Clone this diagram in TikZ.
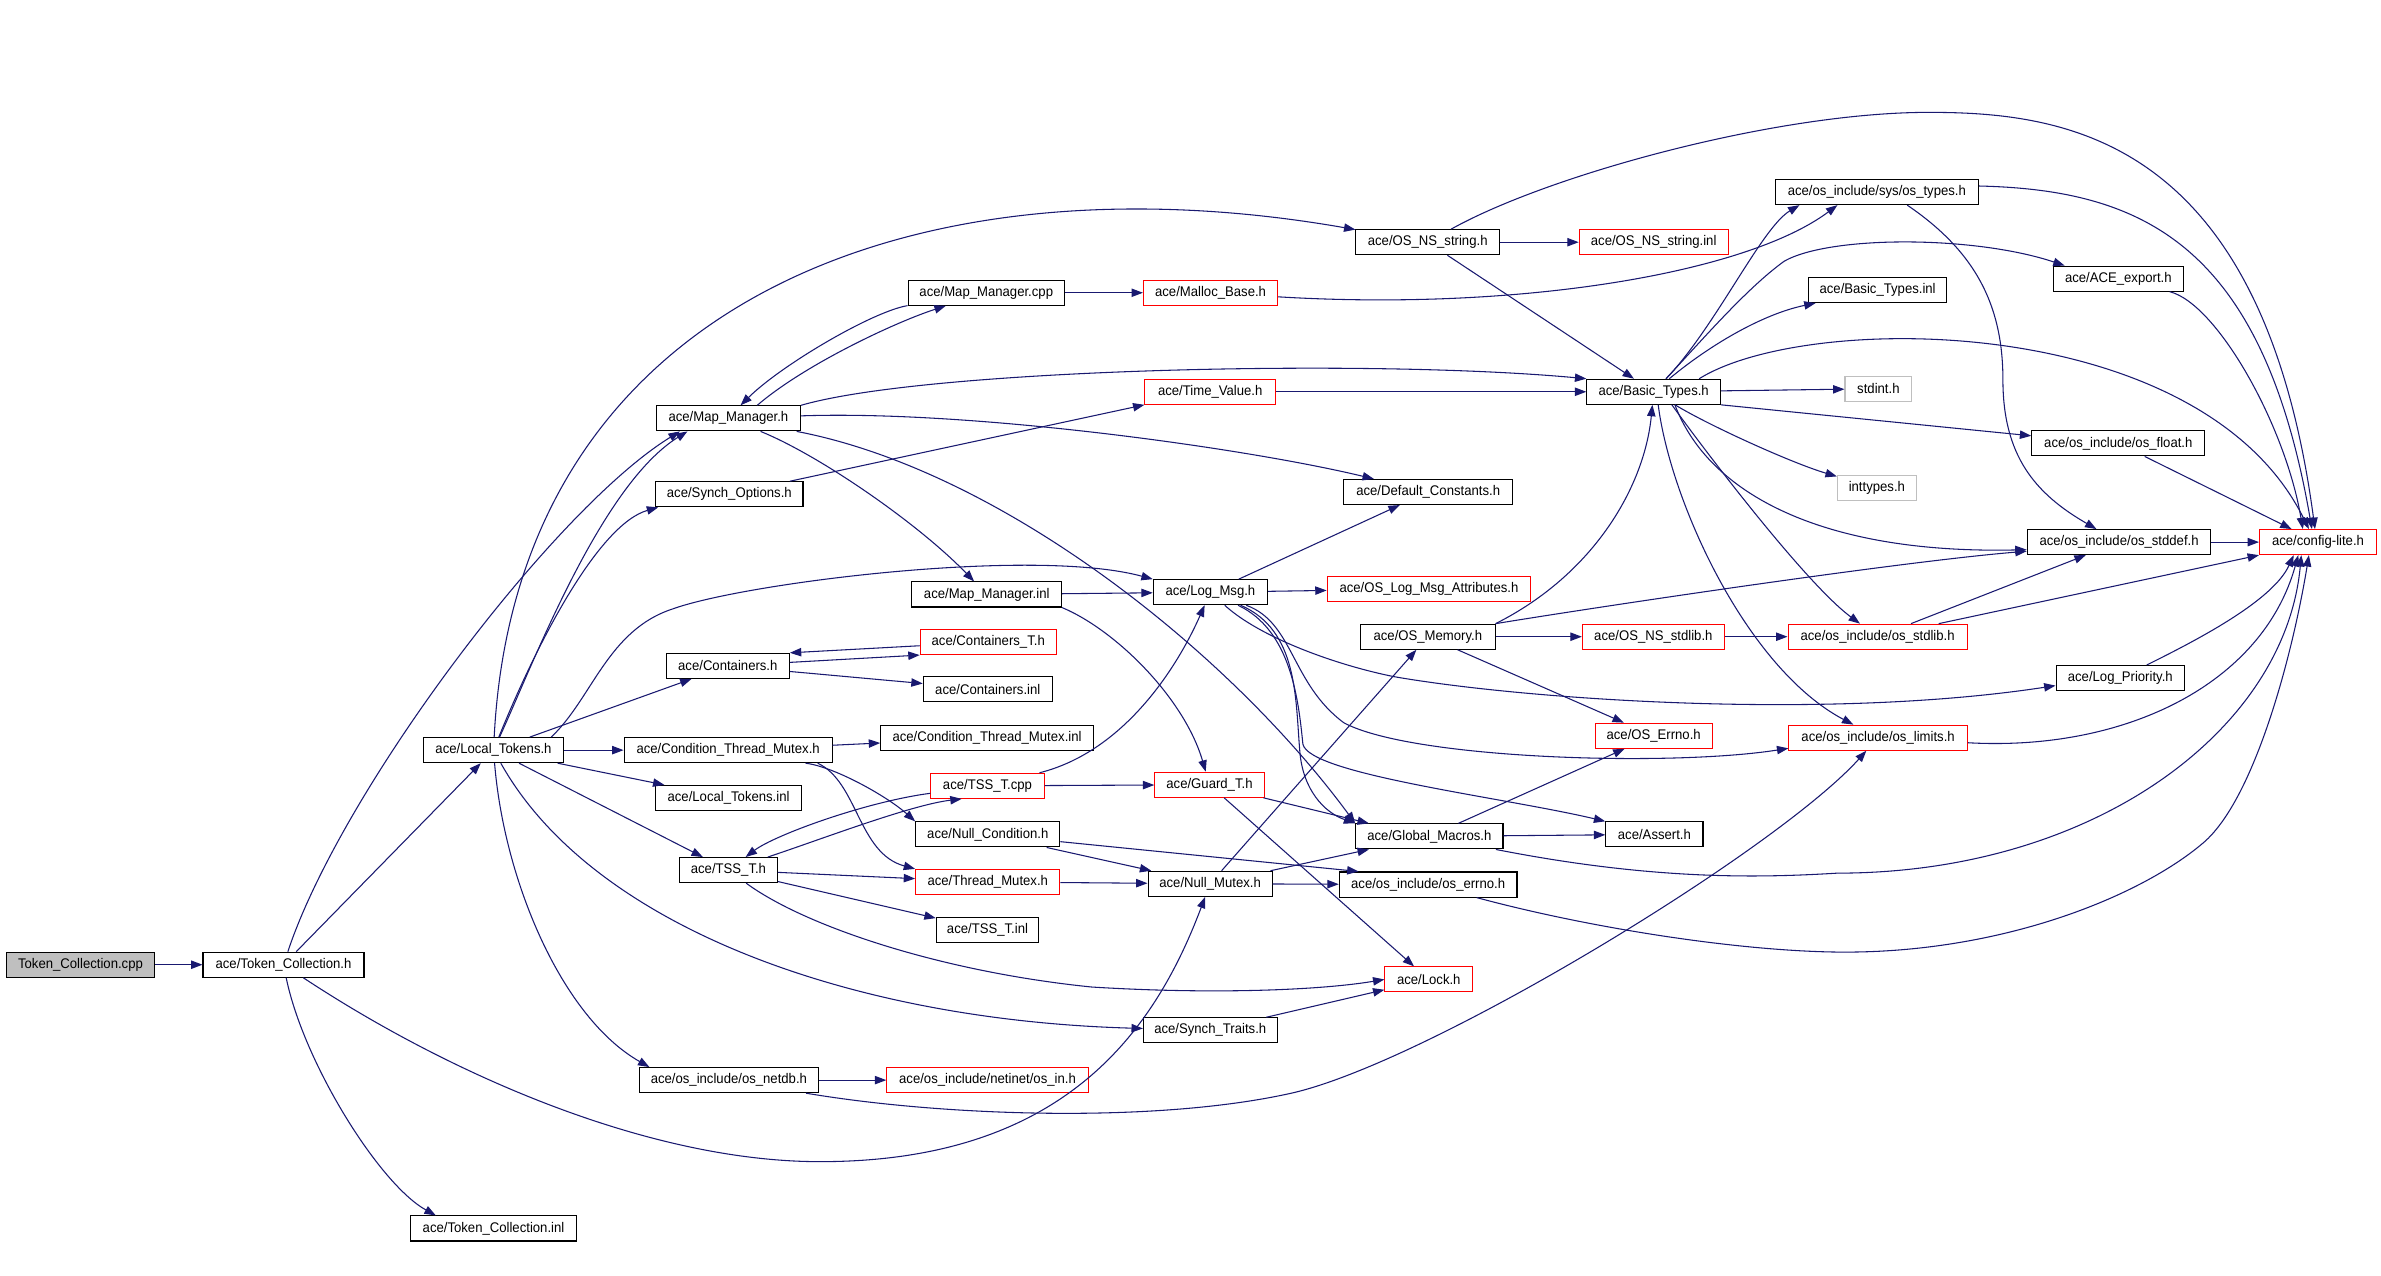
\documentclass[tikz,border=0pt]{standalone}
\usepackage{fontspec}
\newfontfamily\dfont[FakeStretch=0.94]{Liberation Sans}
\usetikzlibrary{arrows.meta}
\definecolor{edgeblue}{HTML}{191970}
\definecolor{nodegray}{HTML}{BFBFBF}
\begin{document}
\begin{tikzpicture}[x=1pt,y=-1pt,
  box/.style={draw=black, fill=white, line width=0.7pt, minimum height=16.5pt, inner sep=0pt, font=\dfont\fontsize{9.2}{11}\selectfont, text=black},
  rbox/.style={box, draw=red},
  gbox/.style={box, draw=nodegray},
  conn/.style={draw=edgeblue, line width=0.7pt, -{Triangle[length=7.5pt,width=5.5pt]}}]
\fill[white] (0,0) rectangle (1568,840);
\useasboundingbox (0,0) rectangle (1568,840);
% nodes
\node[box,minimum width=98pt,fill=nodegray] (tccpp) at (53,635.3) {Token\_Collection.cpp};
\node[box,minimum width=106pt] (tch) at (186.7,635.3) {ace/Token\_Collection.h};
\node[box,minimum width=109pt] (tcinl) at (325,809) {ace/Token\_Collection.inl};
\node[box,minimum width=92pt] (lth) at (325,494) {ace/Local\_Tokens.h};
\node[box,minimum width=95pt] (mmh) at (479.7,275.5) {ace/Map\_Manager.h};
\node[box,minimum width=97pt] (synopt) at (480.3,325.5) {ace/Synch\_Options.h};
\node[box,minimum width=81pt] (conth) at (479.3,438.5) {ace/Containers.h};
\node[box,minimum width=137pt] (ctmh) at (479.5,494) {ace/Condition\_Thread\_Mutex.h};
\node[box,minimum width=96pt] (ltinl) at (479.8,525.5) {ace/Local\_Tokens.inl};
\node[box,minimum width=64.5pt] (tssh) at (479.7,573) {ace/TSS\_T.h};
\node[box,minimum width=118pt] (netdb) at (480,711.3) {ace/os\_include/os\_netdb.h};
\node[box,minimum width=103pt] (mmcpp) at (649.5,192.8) {ace/Map\_Manager.cpp};
\node[box,minimum width=98.5pt] (mminl) at (649.8,391.5) {ace/Map\_Manager.inl};
\node[rbox,minimum width=89.6pt] (contT) at (650.8,422.8) {ace/Containers\_T.h};
\node[box,minimum width=85pt] (continl) at (650.5,454) {ace/Containers.inl};
\node[box,minimum width=140pt] (ctminl) at (650,486) {ace/Condition\_Thread\_Mutex.inl};
\node[rbox,minimum width=74.6pt] (tsscpp) at (650.3,517.5) {ace/TSS\_T.cpp};
\node[box,minimum width=95pt] (nullcond) at (650.5,549.5) {ace/Null\_Condition.h};
\node[rbox,minimum width=95pt] (thrmutex) at (650.5,580.8) {ace/Thread\_Mutex.h};
\node[box,minimum width=67.4pt] (tssinl) at (650.3,612.5) {ace/TSS\_T.inl};
\node[rbox,minimum width=132.6pt] (osin) at (650.3,711.3) {ace/os\_include/netinet/os\_in.h};
\node[rbox,minimum width=88.4pt] (malloc) at (797.2,192.8) {ace/Malloc\_Base.h};
\node[rbox,minimum width=86pt] (timeval) at (797,258) {ace/Time\_Value.h};
\node[box,minimum width=75.2pt] (logmsg) at (797.1,390) {ace/Log\_Msg.h};
\node[rbox,minimum width=72pt] (guard) at (796.5,516.8) {ace/Guard\_T.h};
\node[box,minimum width=81.7pt] (nullmutex) at (796.9,582) {ace/Null\_Mutex.h};
\node[box,minimum width=88pt] (synchtr) at (797,678.5) {ace/Synch\_Traits.h};
\node[box,minimum width=94.5pt] (osnsstr) at (940.2,159.5) {ace/OS\_NS\_string.h};
\node[box,minimum width=111pt] (defconst) at (940.5,324) {ace/Default\_Constants.h};
\node[rbox,minimum width=134pt] (oslogattr) at (941,387.8) {ace/OS\_Log\_Msg\_Attributes.h};
\node[box,minimum width=88.5pt] (osmem) at (940.3,419.3) {ace/OS\_Memory.h};
\node[box,minimum width=97pt] (globmac) at (941.3,550.8) {ace/Global\_Macros.h};
\node[box,minimum width=117pt] (oserrno) at (940.5,582.5) {ace/os\_include/os\_errno.h};
\node[rbox,minimum width=57.7pt] (lock) at (940.9,645) {ace/Lock.h};
\node[rbox,minimum width=98pt] (osnsstrinl) at (1089,159.5) {ace/OS\_NS\_string.inl};
\node[box,minimum width=88pt] (basic) at (1089,258) {ace/Basic\_Types.h};
\node[rbox,minimum width=93.5pt] (osnsstdlib) at (1088.8,419.3) {ace/OS\_NS\_stdlib.h};
\node[rbox,minimum width=77pt] (aceerrno) at (1089,484.5) {ace/OS\_Errno.h};
\node[box,minimum width=64pt] (assert) at (1089.5,549.5) {ace/Assert.h};
\node[box,minimum width=134pt] (ostypes) at (1236,126.5) {ace/os\_include/sys/os\_types.h};
\node[box,minimum width=91pt] (basicinl) at (1236.5,191) {ace/Basic\_Types.inl};
\node[gbox,minimum width=44pt] (stdint) at (1237,256) {stdint.h};
\node[gbox,minimum width=52pt] (inttypes) at (1236,321.5) {inttypes.h};
\node[rbox,minimum width=118pt] (osstdlib) at (1236.5,419.3) {ace/os\_include/os\_stdlib.h};
\node[rbox,minimum width=117.5pt] (oslimits) at (1236.8,485.8) {ace/os\_include/os\_limits.h};
\node[box,minimum width=86pt] (aceexport) at (1395,183.5) {ace/ACE\_export.h};
\node[box,minimum width=114pt] (osfloat) at (1395,292) {ace/os\_include/os\_float.h};
\node[box,minimum width=121pt] (osstddef) at (1395.5,357) {ace/os\_include/os\_stddef.h};
\node[box,minimum width=84.6pt] (logprio) at (1396.3,446.5) {ace/Log\_Priority.h};
\node[rbox,minimum width=77pt] (config) at (1526.5,357) {ace/config-lite.h};
% edges
\draw[conn] (tccpp) -- (tch);
\draw[conn] (tch) -- (lth);
\draw[conn] (tch) .. controls (225,520) and (365,335) .. ([xshift=-32pt]mmh.south);
\draw[conn] (tch) .. controls (300,710) and (430,765) .. (540,765) .. controls (700,765) and (760,680) .. (nullmutex);
\draw[conn] (tch) .. controls (200,700) and (250,780) .. ([xshift=-38pt]tcinl.north);
\draw[conn] (lth) .. controls (340,200) and (600,100) .. (osnsstr);
\draw[conn] (lth) .. controls (350,440) and (395,320) .. ([xshift=-27pt]mmh.south);
\draw[conn] (lth) .. controls (355,420) and (395,345) .. ([xshift=2pt]synopt.south west);
\draw[conn] (lth) -- (conth);
\draw[conn] ([xshift=38pt]lth.north) .. controls (390,460) and (400,415) .. (443,401) .. controls (490,384) and (680,360) .. (logmsg.north west);
\draw[conn] (lth) -- (ctmh);
\draw[conn] (lth) -- (ltinl);
\draw[conn] (lth) -- (tssh);
\draw[conn] (lth) .. controls (332,580) and (370,670) .. ([xshift=7pt]netdb.north west);
\draw[conn] (lth) .. controls (390,610) and (560,672) .. (synchtr);
\draw[conn] ([xshift=19pt]mmh.north) .. controls (530,240) and (590,212) .. (mmcpp);
\draw[conn] (mmcpp) .. controls (575,205) and (515,240) .. ([xshift=8pt]mmh.north);
\draw[conn] (mmcpp) -- (malloc);
\draw[conn] (mmh.north east) .. controls (610,243) and (900,236) .. (basic.north west);
\draw[conn] (mmh) .. controls (640,270) and (820,295) .. (defconst);
\draw[conn] (mmh) .. controls (540,300) and (605,345) .. (mminl);
\draw[conn] (mmh) .. controls (660,310) and (810,430) .. (globmac.north west);
\draw[conn] (synopt) -- (timeval.south west);
\draw[conn] (timeval) -- (basic);
\draw[conn] (malloc) .. controls (1000,205) and (1150,180) .. ([xshift=-26pt]ostypes.south);
\draw[conn] (basic) .. controls (1130,215) and (1160,150) .. ([xshift=-51pt]ostypes.south);
\draw[conn] (basic) .. controls (1120,225) and (1150,190) .. (1175,172) .. controls (1205,155) and (1300,155) .. ([xshift=8pt]aceexport.north west);
\draw[conn] (basic) .. controls (1125,228) and (1160,207) .. ([xshift=5pt]basicinl.south west);
\draw[conn] (basic) -- (stdint);
\draw[conn] ([xshift=30pt]basic.north) .. controls (1190,205) and (1450,205) .. ([xshift=-6pt]config.north);
\draw[conn] (basic) .. controls (1125,280) and (1180,305) .. (inttypes);
\draw[conn] (basic.south east) -- ([yshift=5pt]osfloat.west);
\draw[conn] ([xshift=14pt]basic.south) .. controls (1125,325) and (1200,365) .. ([yshift=-5pt]osstddef.west);
\draw[conn] ([xshift=12pt]basic.south) .. controls (1125,300) and (1190,385) .. (osstdlib);
\draw[conn] ([xshift=3pt]basic.south) .. controls (1100,330) and (1150,440) .. (oslimits);
\draw[conn] (osnsstr) -- (osnsstrinl);
\draw[conn] (osnsstr) -- (basic);
\draw[conn] (osnsstr) .. controls (1020,115) and (1170,74) .. (1270,74) .. controls (1360,74) and (1490,90) .. ([xshift=-2pt]config.north);
\draw[conn] ([yshift=4pt]ostypes.east) .. controls (1410,125) and (1490,160) .. ([xshift=-4pt]config.north);
\draw[conn] ([xshift=20pt]ostypes.south) .. controls (1300,165) and (1319,200) .. (1319,250) .. controls (1319,300) and (1340,325) .. (osstddef);
\draw[conn] (aceexport) .. controls (1460,200) and (1505,280) .. ([xshift=-10pt]config.north);
\draw[conn] (osfloat) -- (config);
\draw[conn] (osstddef) -- (config);
\draw[conn] (osstdlib) -- (osstddef);
\draw[conn] (osstdlib) -- (config.south west);
\draw[conn] (osnsstdlib) -- (osstdlib);
\draw[conn] (osmem) -- (osnsstdlib);
\draw[conn] (osmem.north east) .. controls (1050,378) and (1083,320) .. (basic);
\draw[conn] (osmem.north east) .. controls (1050,400) and (1250,370) .. ([yshift=-6pt]osstddef.west);
\draw[conn] (osmem) -- (aceerrno);
\draw[conn] (oslimits) .. controls (1400,495) and (1490,450) .. ([xshift=-13pt]config.south);
\draw[conn] (logprio) .. controls (1450,420) and (1497,395) .. ([xshift=-16pt]config.south);
\draw[conn] (globmac) -- (assert);
\draw[conn] (globmac) -- (aceerrno);
\draw[conn] (globmac) .. controls (1090,580) and (1160,578) .. (1210,575) .. controls (1380,575) and (1505,480) .. ([xshift=-11pt]config.south);
\draw[conn] (oserrno) .. controls (1050,612) and (1150,627) .. (1215,627) .. controls (1320,627) and (1410,590) .. (1451,555) .. controls (1485,526) and (1510,430) .. ([xshift=-6pt]config.south);
\draw[conn] (logmsg) -- (oslogattr);
\draw[conn] (logmsg) -- (defconst);
\draw[conn] (logmsg) .. controls (830,420) and (880,438) .. (918,445.6) .. controls (1000,460) and (1200,475) .. ([yshift=-5pt]logprio.west);
\draw[conn] (logmsg) .. controls (852,410) and (850,450) .. (885,476) .. controls (930,500) and (1100,505) .. ([yshift=-7pt]oslimits.west);
\draw[conn] (logmsg) .. controls (850,415) and (855,460) .. (858,490) .. controls (862,510) and (990,525) .. (assert.north west);
\draw[conn] (logmsg) .. controls (855,415) and (853,460) .. (856,495) .. controls (858,520) and (872,535) .. (globmac.north west);
\draw[conn] (guard) -- ([xshift=9pt]globmac.north west);
\draw[conn] (guard) -- (lock);
\draw[conn] (nullmutex) -- (globmac);
\draw[conn] (nullmutex) -- (oserrno);
\draw[conn] (nullmutex) -- (osmem);
\draw[conn] (thrmutex) -- (nullmutex);
\draw[conn] (nullcond) -- (nullmutex);
\draw[conn] (nullcond) -- ([xshift=13pt]oserrno.north west);
\draw[conn] (ctmh) -- (ctminl);
\draw[conn] ([xshift=51pt]ctmh.south) .. controls (550,505) and (585,525) .. (nullcond.north west);
\draw[conn] ([xshift=59pt]ctmh.south) .. controls (565,515) and (565,562) .. (thrmutex.north west);
\draw[conn] (conth) -- (contT.south west);
\draw[conn] (contT) -- (conth.north east);
\draw[conn] (conth) -- (continl);
\draw[conn] (tssh) .. controls (540,553) and (600,530) .. ([xshift=-17pt]tsscpp.south);
\draw[conn] (tsscpp) .. controls (570,528) and (510,550) .. (tssh);
\draw[conn] (tssh) -- (thrmutex);
\draw[conn] (tssh) -- (tssinl);
\draw[conn] (tssh) .. controls (530,610) and (620,640) .. (719,650) .. controls (800,655) and (870,652) .. (lock.west);
\draw[conn] (tsscpp) -- (guard);
\draw[conn] (tsscpp) .. controls (740,495) and (775,440) .. (logmsg);
\draw[conn] (mminl) -- (logmsg);
\draw[conn] (mminl.south east) .. controls (735,415) and (780,460) .. (guard);
\draw[conn] (synchtr) -- (lock);
\draw[conn] (netdb) -- (osin);
\draw[conn] (netdb) .. controls (620,735) and (760,740) .. (850,720) .. controls (940,700) and (1170,560) .. (oslimits);
\end{tikzpicture}
\end{document}
